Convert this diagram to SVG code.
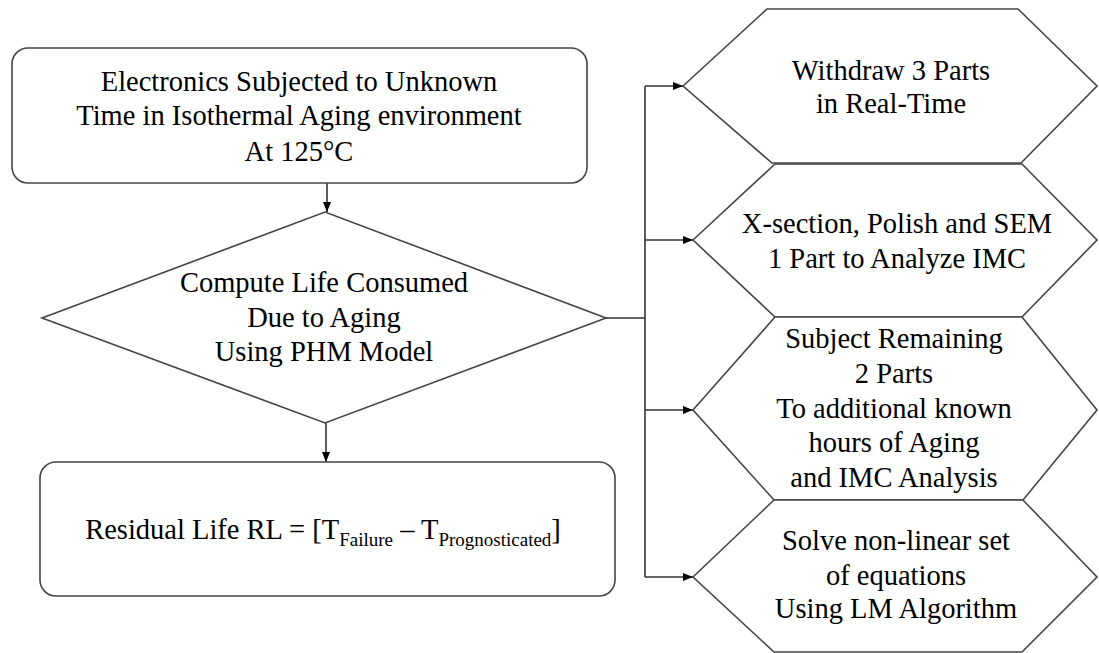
<svg xmlns="http://www.w3.org/2000/svg" width="1099" height="653" viewBox="0 0 1099 653">
<style>
.shape{fill:#ffffff;stroke:#444444;stroke-width:1.6}
.t{font-family:'Liberation Serif','Times New Roman',Tinos,'DejaVu Serif',serif;font-size:28.5px;fill:#000000;text-anchor:middle}
.sub{font-size:19px}
.conn{fill:none;stroke:#333333;stroke-width:1.6}
</style>
<defs>
<marker id="arr" viewBox="0 0 10 8" refX="10" refY="4" markerWidth="10" markerHeight="8" markerUnits="userSpaceOnUse" orient="auto">
<path d="M0,0 L10,4 L0,8 Z" fill="#000000"/>
</marker>
</defs>
<rect width="1099" height="653" fill="#ffffff"/>

<g id="connectors">
<line class="conn" x1="327" y1="183" x2="327" y2="212" marker-end="url(#arr)"/>
<line class="conn" x1="326" y1="423" x2="326" y2="462" marker-end="url(#arr)"/>
<polyline class="conn" points="605,318 645,318"/>
<polyline class="conn" points="645,86 645,577"/>
<line class="conn" x1="645" y1="86" x2="683" y2="86" marker-end="url(#arr)"/>
<line class="conn" x1="645" y1="240" x2="693" y2="240" marker-end="url(#arr)"/>
<line class="conn" x1="645" y1="410" x2="693" y2="410" marker-end="url(#arr)"/>
<line class="conn" x1="645" y1="577" x2="693" y2="577" marker-end="url(#arr)"/>
</g>

<g id="node-start" font-family="Liberation Serif, serif">
<rect class="shape" x="12" y="48" width="575" height="135" rx="16" ry="16"/>
<text class="t" x="299" y="91">Electronics Subjected to Unknown</text>
<text class="t" x="299" y="125">Time in Isothermal Aging environment</text>
<text class="t" x="299" y="161">At 125°C</text>
</g>

<g id="node-compute" font-family="Liberation Serif, serif">
<polygon class="shape" points="42,318 325,212 606,318 325,423"/>
<text class="t" x="324" y="292">Compute Life Consumed</text>
<text class="t" x="324" y="327">Due to Aging</text>
<text class="t" x="324" y="361">Using PHM Model</text>
</g>

<g id="node-residual" font-family="Liberation Serif, serif">
<rect class="shape" x="40" y="462" width="575" height="134" rx="16" ry="16"/>
<text class="t" x="323" y="539">Residual Life RL = [T<tspan class="sub" dy="7">Failure</tspan><tspan dy="-7"> – T</tspan><tspan class="sub" dy="7">Prognosticated</tspan><tspan dy="-7">]</tspan></text>
</g>

<g id="node-withdraw" font-family="Liberation Serif, serif">
<polygon class="shape" points="683,86 767,9 1018,9 1097,86 1021,163 772,163"/>
<text class="t" x="891" y="80">Withdraw 3 Parts</text>
<text class="t" x="891" y="113">in Real-Time</text>
</g>

<g id="node-xsection" font-family="Liberation Serif, serif">
<polygon class="shape" points="693,240 775,164 1022,164 1097,240 1022,317 775,317"/>
<text class="t" x="897" y="233">X-section, Polish and SEM</text>
<text class="t" x="897" y="268">1 Part to Analyze IMC</text>
</g>

<g id="node-subject" font-family="Liberation Serif, serif">
<polygon class="shape" points="693,410 775,317 1022,317 1097,410 1023,500 774,500"/>
<text class="t" x="894" y="348">Subject Remaining</text>
<text class="t" x="894" y="383">2 Parts</text>
<text class="t" x="894" y="418">To additional known</text>
<text class="t" x="894" y="452">hours of Aging</text>
<text class="t" x="894" y="487"> and IMC Analysis</text>
</g>

<g id="node-solve" font-family="Liberation Serif, serif">
<polygon class="shape" points="693,577 774,500 1023,500 1097,577 1022,652 774,652"/>
<text class="t" x="896" y="550">Solve non-linear set</text>
<text class="t" x="896" y="585">of equations</text>
<text class="t" x="896" y="618">Using LM Algorithm</text>
</g>
</svg>
